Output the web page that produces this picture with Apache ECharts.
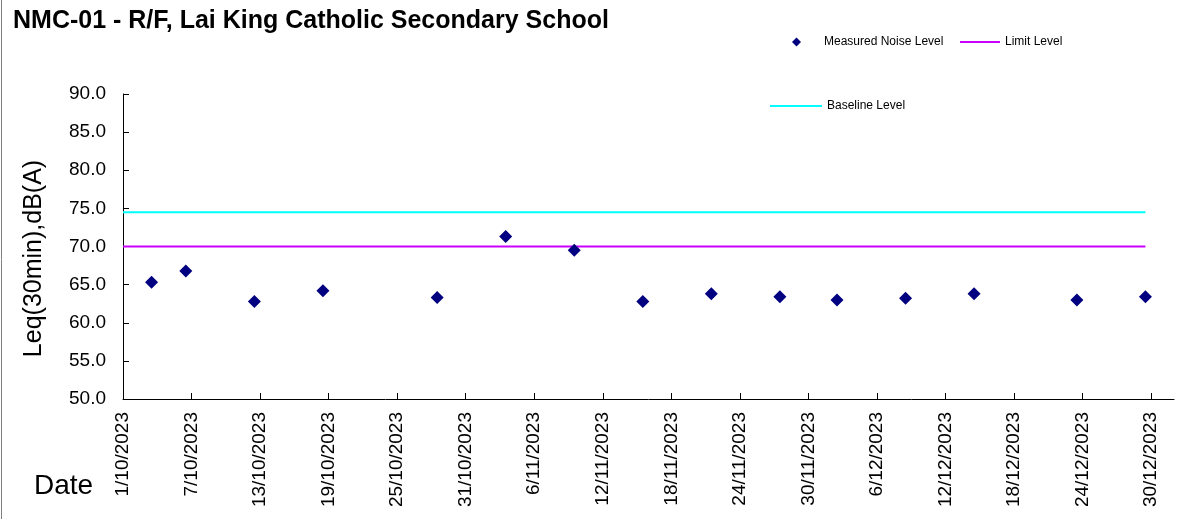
<!DOCTYPE html>
<html>
<head>
<meta charset="utf-8">
<script src="https://cdn.jsdelivr.net/npm/echarts@6/dist/echarts.min.js"></script>
<style>
html,body{margin:0;padding:0;background:#fff;}
#chart{width:1189px;height:519px;}
</style>
</head>
<body>
<div id="chart"></div>
<script>
// ---- data ----
const measuredDates = ['2023-10-03','2023-10-06','2023-10-12','2023-10-18','2023-10-28','2023-11-03','2023-11-09','2023-11-15','2023-11-21','2023-11-27','2023-12-02','2023-12-08','2023-12-14','2023-12-23','2023-12-29'];
const measuredValues = [65.3, 66.8, 62.8, 64.2, 63.3, 71.3, 69.5, 62.8, 63.8, 63.4, 63.0, 63.2, 63.8, 63.0, 63.4];
const limitLevel = 70.0;
const baselineLevel = 74.5;
const tickDates = ['2023-10-01','2023-10-07','2023-10-13','2023-10-19','2023-10-25','2023-10-31','2023-11-06','2023-11-12','2023-11-18','2023-11-24','2023-11-30','2023-12-06','2023-12-12','2023-12-18','2023-12-24','2023-12-30'];
const axisStart = '2023-10-01';
const axisEnd = '2024-01-01';
const yTicks = [50, 55, 60, 65, 70, 75, 80, 85, 90];

const DAY = 86400000;
const t = s => Date.parse(s);          // ISO date -> UTC ms
const mid = s => t(s) + DAY / 2;        // plotted in the middle of the day slot
const fmt = v => { const d = new Date(v); return d.getUTCDate() + '/' + (d.getUTCMonth() + 1) + '/' + d.getUTCFullYear(); };

const scatterData = measuredDates.map((d, i) => [mid(d), measuredValues[i]]);
const lineEnd = mid(measuredDates[measuredDates.length - 1]);
const limitData = [[t(axisStart), limitLevel], [lineEnd, limitLevel]];
const baselineData = [[t(axisStart), baselineLevel], [lineEnd, baselineLevel]];
const tickVals = tickDates.map(t);

const FONT = '"Liberation Sans", Arial, sans-serif';
const legendText = { fontFamily: FONT, fontSize: 12, color: '#000' };
const chart = echarts.init(document.getElementById('chart'));
chart.setOption({
  animation: false,
  backgroundColor: '#fff',
  title: {
    text: 'NMC-01 - R/F, Lai King Catholic Secondary School',
    left: 8, top: 4,
    textStyle: { fontFamily: FONT, fontSize: 25, fontWeight: 'bold', color: '#000' }
  },
  legend: [
    {
      left: 792, top: 36, padding: 0, itemWidth: 9, itemHeight: 9,
      textStyle: Object.assign({ padding: [0, 0, 0, 18] }, legendText),
      data: [{ name: 'Measured Noise Level', icon: 'diamond', itemStyle: { color: '#000080' } }]
    },
    {
      left: 960, top: 36, padding: 0, itemWidth: 40, itemHeight: 2,
      textStyle: legendText,
      data: [{ name: 'Limit Level', icon: 'rect' }]
    },
    {
      left: 770, top: 100, padding: 0, itemWidth: 52, itemHeight: 2,
      textStyle: legendText,
      data: [{ name: 'Baseline Level', icon: 'rect' }]
    }
  ],
  grid: { left: 123, top: 94, right: 15, bottom: 120, containLabel: false },
  xAxis: {
    type: 'value',
    min: t(axisStart), max: t(axisEnd),
    splitLine: { show: false },
    axisLine: { show: true, onZero: false, lineStyle: { color: '#000', width: 1 } },
    axisTick: { show: true, inside: true, length: 6, customValues: tickVals, lineStyle: { color: '#000' } },
    axisLabel: {
      customValues: tickVals, rotate: 90, margin: 13,
      formatter: fmt,
      fontFamily: FONT, fontSize: 19, color: '#000'
    }
  },
  yAxis: {
    type: 'value',
    min: yTicks[0], max: yTicks[yTicks.length - 1], interval: 5,
    name: 'Leq(30min),dB(A)',
    nameLocation: 'middle', nameRotate: 90, nameGap: 76,
    nameTextStyle: { fontFamily: FONT, fontSize: 25, color: '#000', padding: [0, 24, 0, 0] },
    splitLine: { show: false },
    axisLine: { show: true, lineStyle: { color: '#000', width: 1 } },
    axisTick: { show: true, inside: true, length: 6, lineStyle: { color: '#000' } },
    axisLabel: {
      margin: 17, formatter: v => v.toFixed(1),
      fontFamily: FONT, fontSize: 19, color: '#000'
    }
  },
  graphic: [
    { type: 'text', left: 34, top: 472, style: { text: 'Date', font: '28px ' + FONT, fill: '#000' } },
    { type: 'line', shape: { x1: 1.5, y1: 0, x2: 1.5, y2: 519 }, style: { stroke: '#808080', lineWidth: 1 } }
  ],
  series: [
    {
      name: 'Measured Noise Level', type: 'scatter',
      symbol: 'diamond', symbolSize: 13,
      itemStyle: { color: '#000080', opacity: 1 },
      data: scatterData, z: 5
    },
    {
      name: 'Limit Level', type: 'line', symbol: 'none',
      lineStyle: { color: '#CC00FF', width: 2 }, itemStyle: { color: '#CC00FF' },
      data: limitData
    },
    {
      name: 'Baseline Level', type: 'line', symbol: 'none',
      lineStyle: { color: '#00FFFF', width: 2 }, itemStyle: { color: '#00FFFF' },
      data: baselineData
    }
  ]
});
</script>
</body>
</html>
